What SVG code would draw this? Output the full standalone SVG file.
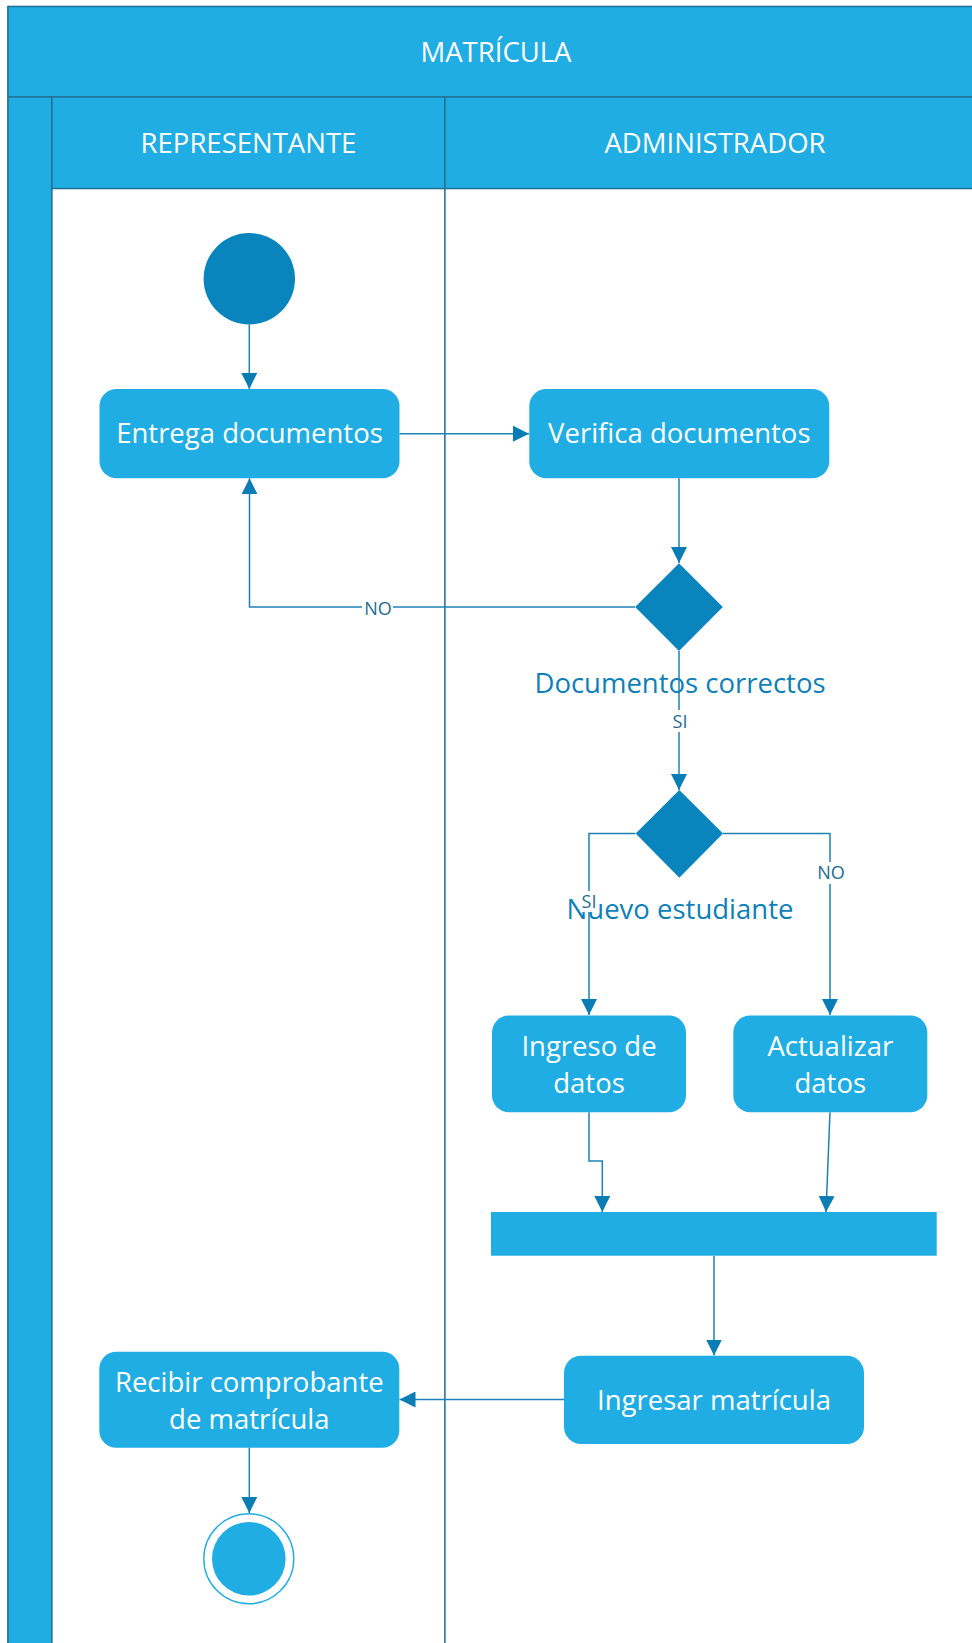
<svg xmlns="http://www.w3.org/2000/svg" width="972" height="1643" viewBox="0 0 972 1643">
<style>
.hdr{fill:#1FADE3;stroke:#236E8E;stroke-width:1.3}
.lane{fill:#FFFFFF;stroke:#236E8E;stroke-width:1.3}
.act{fill:#1FADE3;stroke:none}
.dark{fill:#0984BC;stroke:none}
.t{font-family:"Open Sans","Noto Sans",sans-serif;font-size:27.5px;fill:#FFFFFF;text-anchor:middle}
.dl{font-family:"Open Sans","Noto Sans",sans-serif;font-size:27.5px;fill:#0E7FB8;text-anchor:middle}
.lbl{font-family:"Open Sans","Noto Sans",sans-serif;font-size:18px;fill:#1B6B90;text-anchor:middle}
.c{fill:none;stroke:#1F81B6;stroke-width:1.5}
.bg{fill:#FFFFFF}
</style>
<defs>
<marker id="ah" markerUnits="userSpaceOnUse" markerWidth="16" markerHeight="16" refX="16" refY="8" orient="auto">
<path d="M0,0 L16,8 L0,16 z" fill="#0B7DB5"/>
</marker>
</defs>
<rect x="0" y="0" width="972" height="1643" fill="#FFFFFF"/>
<g id="pool">
<rect class="lane" x="8" y="6.5" width="990" height="1650"/>
<rect class="hdr" x="8" y="6.5" width="990" height="90.5"/>
<text class="t" x="496" y="62">MATRÍCULA</text>
<rect class="hdr" x="8" y="97" width="44" height="1560"/>
</g>
<g id="lane-representante">
<rect class="lane" x="52" y="188.5" width="393" height="1470"/>
<rect class="hdr" x="52" y="97" width="393" height="91.5"/>
<text class="t" x="248.5" y="152.5">REPRESENTANTE</text>
</g>
<g id="lane-administrador">
<rect class="lane" x="445" y="188.5" width="560" height="1470"/>
<rect class="hdr" x="445" y="97" width="560" height="91.5"/>
<text class="t" x="715" y="152.5">ADMINISTRADOR</text>
</g>
<g id="connectors">
<path class="c" d="M249.3,324.5 V389" marker-end="url(#ah)"/>
<path class="c" d="M399.5,433.7 H529" marker-end="url(#ah)"/>
<path class="c" d="M679,478.3 V563" marker-end="url(#ah)"/>
<path class="c" d="M635,607 H249.5 V478.3" marker-end="url(#ah)"/>
<path class="c" d="M679,651 V790" marker-end="url(#ah)"/>
<path class="c" d="M635.5,833.5 H589 V1015" marker-end="url(#ah)"/>
<path class="c" d="M723,833.5 H830 V1015" marker-end="url(#ah)"/>
<path class="c" d="M589,1112.3 V1161 H602.3 V1212" marker-end="url(#ah)"/>
<path class="c" d="M830,1112.3 L826,1212" marker-end="url(#ah)"/>
<path class="c" d="M714,1256 V1355.5" marker-end="url(#ah)"/>
<path class="c" d="M564,1399.5 H399.5" marker-end="url(#ah)"/>
<path class="c" d="M249.3,1447.7 V1513" marker-end="url(#ah)"/>
</g>
<g id="start">
<circle class="dark" cx="249.3" cy="278.8" r="45.7"/>
</g>
<g id="entrega">
<rect class="act" x="99.5" y="389" width="300" height="89.3" rx="17"/>
<text class="t" x="249.5" y="443">Entrega documentos</text>
</g>
<g id="verifica">
<rect class="act" x="529.3" y="389" width="300" height="89.3" rx="17"/>
<text class="t" x="679.3" y="443">Verifica documentos</text>
</g>
<g id="decision1">
<polygon class="dark" points="679,563.3 722.8,607 679,651 635.2,607"/>
<text class="dl" x="680" y="693">Documentos correctos</text>
</g>
<g id="decision2">
<polygon class="dark" points="679.3,790 723,833.5 679.3,877.7 635.7,833.5"/>
<text class="dl" x="680" y="919">Nuevo estudiante</text>
</g>
<g id="labels">
<rect class="bg" x="362" y="597" width="31" height="20"/>
<text class="lbl" x="378" y="615">NO</text>
<rect class="bg" x="670" y="710" width="20" height="22"/>
<text class="lbl" x="680" y="728">SI</text>
<rect class="bg" x="580" y="891" width="18" height="21"/>
<text class="lbl" x="589" y="908.3">SI</text>
<rect class="bg" x="816" y="862" width="31" height="22"/>
<text class="lbl" x="831" y="879">NO</text>
</g>
<g id="ingreso">
<rect class="act" x="492" y="1015.5" width="194" height="96.8" rx="17"/>
<text class="t" x="589" y="1056">Ingreso de</text>
<text class="t" x="589" y="1093">datos</text>
</g>
<g id="actualizar">
<rect class="act" x="733.3" y="1015.5" width="194" height="96.8" rx="17"/>
<text class="t" x="830.3" y="1056">Actualizar</text>
<text class="t" x="830.3" y="1093">datos</text>
</g>
<g id="join">
<rect class="act" x="491" y="1212" width="445.7" height="43.7"/>
</g>
<g id="ingresar">
<rect class="act" x="564" y="1355.7" width="300" height="88.3" rx="17"/>
<text class="t" x="714" y="1410">Ingresar matrícula</text>
</g>
<g id="recibir">
<rect class="act" x="99.3" y="1351.7" width="300" height="96" rx="17"/>
<text class="t" x="249.3" y="1391.7">Recibir comprobante</text>
<text class="t" x="249.3" y="1429.3">de matrícula</text>
</g>
<g id="end">
<circle cx="248.8" cy="1558.8" r="45" fill="#FFFFFF" stroke="#1FADE3" stroke-width="1.4"/>
<circle class="act" cx="248.8" cy="1558.8" r="36.8"/>
</g>
</svg>
